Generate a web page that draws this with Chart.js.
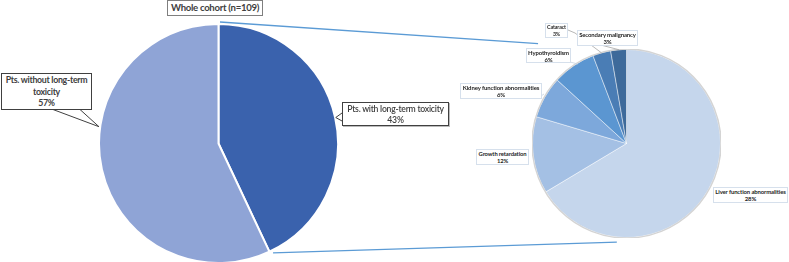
<!DOCTYPE html>
<html>
<head>
<meta charset="utf-8">
<script src="https://cdn.jsdelivr.net/npm/chart.js@4.4.1/dist/chart.umd.min.js"></script>
<style>
  body { margin: 0; width: 789px; height: 262px; overflow: hidden; background: #fff; position: relative; font-family: Lato, 'Open Sans', sans-serif; }
  .pie { position: absolute; }
  #links { position: absolute; left: 0; top: 0; z-index: 2; }
  .lbl { position: absolute; box-sizing: border-box; background: #fff; text-align: center; font-weight: 700; z-index: 3; white-space: nowrap;
         display: flex; flex-direction: column; justify-content: center; }
  .big { border: 1px solid #404040; color: #404040; }
  .small { border: 1px solid #d6e0ec; color: #262626; }
</style>
</head>
<body>
<div class="pie" style="left:98px;top:23px"><canvas id="cohortChart" width="241" height="241"></canvas></div>
<div class="pie" style="left:532px;top:49px"><canvas id="toxChart" width="189" height="189"></canvas></div>
<canvas id="links" width="789" height="262"></canvas>
<div id="labels"></div>

<script>
// left pie: whole cohort
const cohortTitle = 'Whole cohort (n=109)';
const cohortLabels = ['Pts. with long-term toxicity', 'Pts. without long-term toxicity'];
const cohortValues = [43, 57];
const cohortColors = ['#3A62AD', '#8FA4D6'];

// right pie: toxicities (slice sizes as drawn, label % as printed)
const toxLabels = ['Liver function abnormalities', 'Growth retardation', 'Kidney function abnormalities', 'Hypothyroidism', 'Cataract', 'Secondary malignancy'];
const toxValues = [66.4, 13.2, 7.2, 7.4, 3.1, 2.7];
const toxPercent = ['28%', '12%', '6%', '6%', '3%', '3%'];
const toxColors = ['#C5D6EC', '#A4C0E4', '#7DA8DB', '#5B96D1', '#4A7DB5', '#3E6A9A'];

Chart.defaults.animation = false;
Chart.defaults.plugins.legend.display = false;
Chart.defaults.plugins.tooltip.enabled = false;

// grey rim round the right pie
const rimPlugin = {
  id: 'rim',
  afterDatasetsDraw(chart) {
    const a = chart.getDatasetMeta(0).data[0];
    const ctx = chart.ctx;
    ctx.save();
    ctx.strokeStyle = '#d4d4d4';
    ctx.lineWidth = 1.5;
    ctx.beginPath();
    ctx.arc(a.x, a.y, a.outerRadius + 0.5, 0, Math.PI * 2);
    ctx.stroke();
    ctx.restore();
  }
};

const cohortChart = new Chart(document.getElementById('cohortChart'), {
  type: 'pie',
  data: {
    labels: cohortLabels,
    datasets: [{ data: cohortValues, backgroundColor: cohortColors, borderColor: '#fff', borderWidth: 2 }]
  },
  options: { responsive: false, layout: { padding: 0 } }
});

const toxChart = new Chart(document.getElementById('toxChart'), {
  type: 'pie',
  data: {
    labels: toxLabels,
    datasets: [{ data: toxValues, backgroundColor: toxColors, borderColor: 'rgba(255,255,255,0.45)', borderWidth: 1 }]
  },
  options: { responsive: false, layout: { padding: 0 } },
  plugins: [rimPlugin]
});

// point on a pie, angle in degrees clockwise from 12 o'clock, in page coords
function polar(chart, left, top, deg, rf) {
  const a = chart.getDatasetMeta(0).data[0];
  const t = deg * Math.PI / 180;
  const r = a.outerRadius * rf;
  return [left + a.x + r * Math.sin(t), top + a.y - r * Math.cos(t)];
}
const L = (deg, rf) => polar(cohortChart, 98, 23, deg, rf);
const R = (deg, rf) => polar(toxChart, 532, 49, deg, rf);

const ctx = document.getElementById('links').getContext('2d');
function line(pts, color, w) {
  ctx.strokeStyle = color;
  ctx.lineWidth = w;
  ctx.beginPath();
  pts.forEach((p, i) => i ? ctx.lineTo(p[0], p[1]) : ctx.moveTo(p[0], p[1]));
  ctx.stroke();
}

// zoom lines between the pies
line([L(0.7, 1.017), R(318.5, 1.42)], '#5B9BD5', 1.3);
line([L(153.5, 1.023), R(185.6, 1.055)], '#5B9BD5', 1.3);

// callout pointers for the big labels
line([[53, 109.5], L(278, 1.01), [80, 109.5]], '#404040', 1);
line([[342, 113], L(77.5, 1.005), [342, 121]], '#404040', 1);

// leader lines for the small labels
line([[568, 30], [575, 33], R(344.6, 1.0)], '#a6a6a6', 0.8);
line([[578, 39], R(355.5, 1.0)], '#a6a6a6', 0.8);
line([[570, 62], [578, 64]], '#c8d3e0', 0.8);
line([[541, 96], [544, 94]], '#c8d3e0', 0.8);

// text boxes; font size is fitted so the longest line is about tw px wide
const measure = document.createElement('canvas').getContext('2d');
function box(cls, x, y, w, h, lines, tw, lh, ls, extra) {
  const weight = (extra && extra.weight) || 700;
  measure.font = `${weight} 10px Lato, 'Open Sans', sans-serif`;
  let widest = 0, n = 0;
  lines.forEach(s => {
    const m = measure.measureText(s).width;
    if (m > widest) { widest = m; n = s.length; }
  });
  const size = 10 * (tw - ls * n) / widest;
  const d = document.createElement('div');
  d.className = 'lbl ' + cls;
  d.style.cssText = `left:${x}px;top:${y}px;width:${w}px;height:${h}px;font-size:${size}px;line-height:${lh}px;letter-spacing:${ls}px;font-weight:${weight};` + ((extra && extra.css) || '');
  d.innerHTML = lines.join('<br>');
  document.getElementById('labels').appendChild(d);
}

box('big', 167, 0, 96, 16, [cohortTitle], 88, 14, -0.3, { css: 'border-color:#7f7f7f;' });
box('big', 1, 73, 91, 37, ['Pts. without long-term', 'toxicity', cohortValues[1] + '%'], 82, 11.5, -0.3);
box('big', 342, 102, 107, 24, [cohortLabels[0], cohortValues[0] + '%'], 97, 11, -0.25, { weight: 600, css: 'box-shadow:1px 1px 0 #bbb;' });

const toxBoxes = [
  [713, 187, 75, 16, 71],
  [476, 149, 53, 16, 48],
  [460, 83, 82, 16, 77],
  [526, 48, 45, 15, 41],
  [545, 23, 23, 15, 19],
  [577, 30, 61, 16, 57]
];
toxLabels.forEach((name, i) => {
  const [x, y, w, h, tw] = toxBoxes[i];
  box('small', x, y, w, h, [name, toxPercent[i]], tw, 7, -0.12);
});
</script>
</body>
</html>
